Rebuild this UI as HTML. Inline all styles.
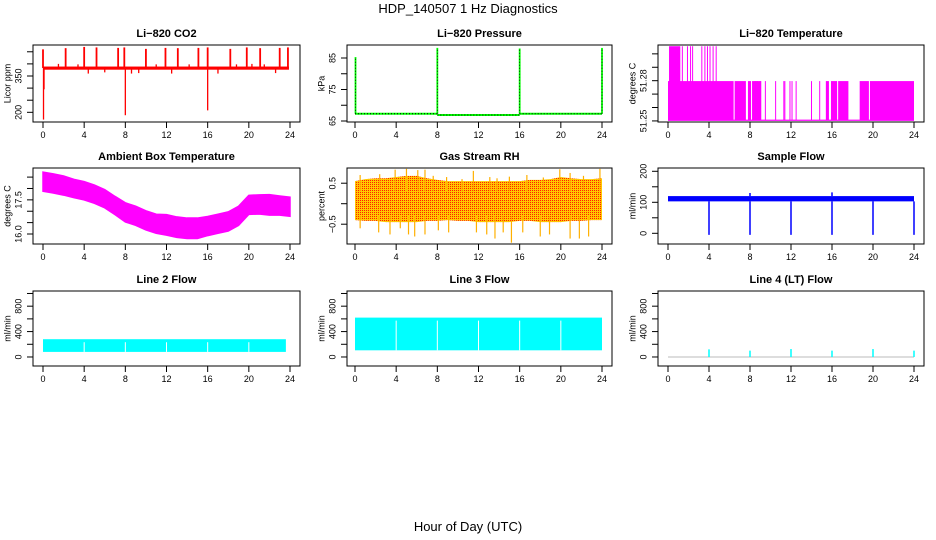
<!DOCTYPE html>
<html><head><meta charset="utf-8"><style>
html,body{margin:0;padding:0;background:#fff;}
svg{display:block;font-family:"Liberation Sans",sans-serif;}
</style></head><body>
<svg id="chart" width="936" height="540" viewBox="0 0 936 540">
<defs>
<pattern id="rhpat" width="2" height="2" patternUnits="userSpaceOnUse"><rect width="2" height="2" fill="#ffc800"/><rect x="0" y="0" width="1" height="1" fill="#ff2000"/></pattern>
</defs>
<text x="468" y="13" text-anchor="middle" font-size="13">HDP_140507  1 Hz Diagnostics</text>
<text x="468" y="531" text-anchor="middle" font-size="13">Hour of Day (UTC)</text>
</svg>
<script>
// ---- data arrays ----
var xTicks = [0, 4, 8, 12, 16, 20, 24];
// CO2
var co2Base = 383;
var co2SpikeHours = [0.0, 2.2, 4.0, 5.2, 7.3, 7.9, 10.0, 11.9, 13.1, 15.1, 16.0, 18.2, 19.8, 21.1, 23.0, 23.8];
var co2SpikeVals = [460, 465, 470, 468, 466, 468, 462, 466, 465, 466, 468, 462, 468, 465, 466, 468];
var co2SmallHours = [1.5, 3.4, 4.4, 6.0, 8.6, 9.3, 11.0, 12.5, 14.2, 17.0, 18.8, 20.3, 21.5, 22.6];
var co2SmallVals = [400, 398, 360, 365, 360, 362, 398, 360, 398, 360, 398, 400, 398, 362];
var co2DipHours = [0.05, 0.1, 8.0, 16.0];
var co2DipVals = [170, 295, 188, 208];
// Pressure
var presSegStart = [0, 8, 16];
var presSegEnd = [8, 16, 24];
var presSegVal = [67.3, 66.9, 67.3];
var presSpikeHours = [0.05, 8.0, 16.0, 24.0];
var presSpikeVals = [85.3, 88.2, 88.0, 88.2];
// Li-820 temperature
var tLow = 51.2505, tMid = 51.2797, tTop = 51.3057;
var tMidBlocks = [[0, 6.4], [6.5, 7.6], [7.8, 8.1], [8.2, 9.1], [15.4, 15.7], [15.9, 16.5], [16.6, 17.6], [18.7, 19.6], [19.7, 24]];
var tMidLines = [8.5, 8.7, 9.0, 9.5, 10.5, 11.3, 11.4, 11.9, 12.1, 12.5, 14.0, 14.8];
var tTopBlocks = [[0.1, 1.2]];
var tTopLines = [1.4, 1.9, 2.2, 2.4, 3.3, 3.6, 3.85, 4.1, 4.4, 4.7];
// Ambient box temperature (hourly centre and half width)
var ambCenter = [18.3, 18.22, 18.13, 18.0, 17.9, 17.75, 17.55, 17.25, 16.95, 16.8, 16.6, 16.45, 16.4, 16.3, 16.25, 16.25, 16.35, 16.45, 16.55, 16.8, 17.28, 17.3, 17.28, 17.25, 17.2];
var ambHalf = [0.42, 0.42, 0.42, 0.4, 0.4, 0.4, 0.4, 0.4, 0.42, 0.42, 0.42, 0.42, 0.45, 0.45, 0.45, 0.45, 0.42, 0.42, 0.42, 0.42, 0.42, 0.42, 0.45, 0.42, 0.42];
// Gas stream RH
var rhTop = [0.55, 0.6, 0.62, 0.62, 0.65, 0.68, 0.68, 0.62, 0.58, 0.55, 0.55, 0.55, 0.55, 0.55, 0.55, 0.55, 0.55, 0.58, 0.58, 0.6, 0.65, 0.62, 0.6, 0.6, 0.62];
var rhBottom = [-0.4, -0.42, -0.42, -0.45, -0.45, -0.45, -0.45, -0.42, -0.42, -0.4, -0.42, -0.42, -0.45, -0.45, -0.45, -0.45, -0.42, -0.42, -0.45, -0.45, -0.45, -0.42, -0.42, -0.4, -0.4];
var rhUpHours = [0.5, 2.4, 3.9, 5.0, 6.1, 6.8, 7.6, 8.9, 10.4, 11.5, 13.1, 13.8, 15.0, 16.7, 18.3, 19.9, 20.9, 22.2, 23.8];
var rhUpVals = [0.7, 0.72, 0.83, 0.85, 0.82, 0.83, 0.68, 0.65, 0.6, 0.8, 0.65, 0.62, 0.66, 0.7, 0.64, 0.84, 0.75, 0.68, 0.85];
var rhDownHours = [0.5, 2.3, 3.4, 4.4, 5.2, 5.8, 6.8, 8.1, 9.1, 11.8, 12.8, 13.6, 14.4, 15.2, 16.3, 18.0, 18.9, 20.9, 21.8, 22.7];
var rhDownVals = [-0.6, -0.7, -0.75, -0.6, -0.75, -0.8, -0.75, -0.65, -0.7, -0.7, -0.75, -0.85, -0.7, -0.95, -0.7, -0.8, -0.75, -0.85, -0.85, -0.8];
// Sample flow
var sfLow = 103, sfHigh = 120;
var sfDipHours = [4, 8, 12, 16, 20, 24];
var sfDipVals = [-5, -5, -5, -5, -5, -5];
var sfSpikeHours = [8.0, 16.0];
var sfSpikeVals = [130, 132];
// Line flows
var l2Low = 80, l2High = 280, l2End = 23.6;
var l3Low = 105, l3High = 620, l3End = 24;
var gapHours = [4, 8, 12, 16, 20];
var l4SpikeHours = [4, 8, 12, 16, 20, 24];
var l4SpikeVals = [120, 100, 125, 100, 125, 100];

// ---- geometry ----
var P = {
  co2:{bx:33,br:300,bt:45,bb:122,x0:43,x24:290,vmin:160,vmax:478,ticks:[200,250,300,350,400,450],labels:[[200,'200'],[350,'350']],title:'Li\u2212820 CO2',ylab:'Licor ppm'},
  pres:{bx:347,br:612,bt:45,bb:122,x0:355,x24:602,vmin:64.68,vmax:89.13,ticks:[65,70,75,80,85],labels:[[65,'65'],[75,'75'],[85,'85']],title:'Li\u2212820 Pressure',ylab:'kPa'},
  ltemp:{bx:658,br:924,bt:45,bb:122,x0:668,x24:914,vmin:51.2492,vmax:51.3066,ticks:[51.25,51.26,51.27,51.28,51.29,51.30],labels:[[51.25,'51.25'],[51.28,'51.28']],title:'Li\u2212820 Temperature',ylab:'degrees C'},
  amb:{bx:33,br:300,bt:168,bb:244,x0:43,x24:290,vmin:15.56,vmax:18.9,ticks:[16,16.5,17,17.5,18,18.5],labels:[[16,'16.0'],[17.5,'17.5']],title:'Ambient Box Temperature',ylab:'degrees C'},
  rh:{bx:347,br:612,bt:168,bb:244,x0:355,x24:602,vmin:-0.983,vmax:0.871,ticks:[-0.5,0,0.5],labels:[[-0.5,'\u22120.5'],[0.5,'0.5']],title:'Gas Stream RH',ylab:'percent'},
  sf:{bx:658,br:924,bt:168,bb:244,x0:668,x24:914,vmin:-34.5,vmax:210.6,ticks:[0,50,100,150,200],labels:[[0,'0'],[100,'100'],[200,'200']],title:'Sample Flow',ylab:'ml/min'},
  l2:{bx:33,br:300,bt:291,bb:366,x0:43,x24:290,vmin:-142,vmax:1039,ticks:[0,200,400,600,800,1000],labels:[[0,'0'],[400,'400'],[800,'800']],title:'Line 2 Flow',ylab:'ml/min'},
  l3:{bx:347,br:612,bt:291,bb:366,x0:355,x24:602,vmin:-142,vmax:1039,ticks:[0,200,400,600,800,1000],labels:[[0,'0'],[400,'400'],[800,'800']],title:'Line 3 Flow',ylab:'ml/min'},
  l4:{bx:658,br:924,bt:291,bb:366,x0:668,x24:914,vmin:-142,vmax:1039,ticks:[0,200,400,600,800,1000],labels:[[0,'0'],[400,'400'],[800,'800']],title:'Line 4 (LT) Flow',ylab:'ml/min'}
};
var svg = document.getElementById('chart');
var NS = 'http://www.w3.org/2000/svg';
function mk(tag, attrs, parent){
  var e = document.createElementNS(NS, tag);
  for (var k in attrs) e.setAttribute(k, attrs[k]);
  (parent || svg).appendChild(e);
  return e;
}
function xs(p, h){ return p.x0 + h / 24 * (p.x24 - p.x0); }
function ys(p, v){ return p.bb - (v - p.vmin) / (p.vmax - p.vmin) * (p.bb - p.bt); }
function vline(g, p, h, v1, v2, col, w){
  var e = mk('line', {x1:xs(p,h), x2:xs(p,h), y1:ys(p,v1), y2:ys(p,v2), stroke:col, 'stroke-width':w||1.3}, g);
  
  
  return e;
}
function hrect(g, p, h1, h2, v1, v2, fill, name){
  var e = mk('rect', {x:xs(p,h1), y:ys(p,v2), width:Math.max(0.5, xs(p,h2)-xs(p,h1)), height:Math.max(1, ys(p,v1)-ys(p,v2)), fill:fill}, g);
  
  
  return e;
}
function axes(key){
  var p = P[key];
  var g = mk('g', {});
  
  
  var t = mk('text', {x:(p.bx+p.br)/2, y:p.bt-8, 'text-anchor':'middle', 'font-size':11, 'font-weight':'bold'}, g);
  
  
  t.textContent = p.title;
  var b = mk('rect', {x:p.bx, y:p.bt, width:p.br-p.bx, height:p.bb-p.bt, fill:'none', stroke:'#000', 'stroke-width':1}, g);
  
  
  xTicks.forEach(function(h){
    var x = xs(p, h);
    var tk = mk('line', {x1:x, x2:x, y1:p.bb, y2:p.bb+6, stroke:'#000'}, g);
    
    
    var tl = mk('text', {x:x, y:p.bb+16, 'text-anchor':'middle', 'font-size':9}, g);
    
    
    tl.textContent = h;
  });
  p.ticks.forEach(function(v){
    var y = ys(p, v);
    var tk = mk('line', {x1:p.bx-6, x2:p.bx, y1:y, y2:y, stroke:'#000'}, g);
    
    
  });
  p.labels.forEach(function(l){
    var y = ys(p, l[0]); var x = p.bx - 14;
    var tl = mk('text', {x:x, y:y, 'text-anchor':'middle', 'font-size':9, transform:'rotate(-90 '+x+' '+y+')', 'dominant-baseline':'middle'}, g);
    
    
    tl.textContent = l[1];
  });
  var yx = p.bx - 25, yy = (p.bt + p.bb) / 2;
  var yl = mk('text', {x:yx, y:yy, 'text-anchor':'middle', 'font-size':9, transform:'rotate(-90 '+yx+' '+yy+')', 'dominant-baseline':'middle'}, g);
  
  
  yl.textContent = p.ylab;
}
function series(key){
  var g = mk('g', {});
  
  
  return g;
}
Object.keys(P).forEach(axes);

// CO2
(function(){
  var p = P.co2, g = series('co2'), c = '#ff0000';
  hrect(g, p, 0, 23.9, co2Base-7, co2Base+6, c, 'co2-baseline');
  co2SpikeHours.forEach(function(h,i){ vline(g, p, h, co2Base, co2SpikeVals[i], c, 1.8); });
  co2SmallHours.forEach(function(h,i){ vline(g, p, h, co2Base, co2SmallVals[i], c, 1.3); });
  co2DipHours.forEach(function(h,i){ vline(g, p, h, co2Base, co2DipVals[i], c, 1.3); });
})();
// Pressure
(function(){
  var p = P.pres, g = series('pres');
  presSegStart.forEach(function(s,i){
    var e = mk('line', {x1:xs(p,s), x2:xs(p,presSegEnd[i]), y1:ys(p,presSegVal[i]), y2:ys(p,presSegVal[i]), stroke:'#00ff00', 'stroke-width':2}, g);
    
    
    var d = mk('line', {x1:xs(p,s), x2:xs(p,presSegEnd[i]), y1:ys(p,presSegVal[i]), y2:ys(p,presSegVal[i]), stroke:'#000', 'stroke-width':1, 'stroke-dasharray':'1 2'}, g);
    
    
  });
  presSpikeHours.forEach(function(h,i){
    vline(g, p, h, 67.3, presSpikeVals[i], '#00ff00', 1.8);
    var d = vline(g, p, h, 67.3, presSpikeVals[i], '#000', 0.8);
    d.setAttribute('stroke-dasharray', '1 2');
  });
})();
// Li-820 temperature
(function(){
  var p = P.ltemp, g = series('ltemp'), c = '#ff00ff';
  var base = mk('line', {x1:xs(p,0), x2:xs(p,24), y1:ys(p,tLow), y2:ys(p,tLow), stroke:c, 'stroke-width':1.2}, g);
  
  
  tMidBlocks.forEach(function(b){ hrect(g, p, b[0], b[1], tLow, tMid, c, 'temp-mid-block'); });
  tMidLines.forEach(function(h){ vline(g, p, h, tLow, tMid, c, 1); });
  tTopBlocks.forEach(function(b){ hrect(g, p, b[0], b[1], tLow, tTop, c, 'temp-top-block'); });
  tTopLines.forEach(function(h){ vline(g, p, h, tLow, tTop, c, 1); });
})();
// Ambient
(function(){
  var p = P.amb, g = series('amb'), pts = [];
  ambCenter.forEach(function(v,i){ pts.push(xs(p,i)+','+ys(p,v+ambHalf[i])); });
  for (var i = ambCenter.length-1; i >= 0; i--) pts.push(xs(p,i)+','+ys(p,ambCenter[i]-ambHalf[i]));
  var e = mk('polygon', {points:pts.join(' '), fill:'#ff00ff', stroke:'#ff00ff', 'stroke-width':1.5}, g);
  
  
})();
// RH
(function(){
  var p = P.rh, g = series('rh'), pts = [];
  rhTop.forEach(function(v,i){ pts.push(xs(p,i)+','+ys(p,v)); });
  for (var i = rhBottom.length-1; i >= 0; i--) pts.push(xs(p,i)+','+ys(p,rhBottom[i]));
  var e = mk('polygon', {points:pts.join(' '), fill:'url(#rhpat)'}, g);
  
  
  rhUpHours.forEach(function(h,i){ vline(g, p, h, 0.3, rhUpVals[i], '#ffb000', 1.2); });
  rhDownHours.forEach(function(h,i){ vline(g, p, h, -0.3, rhDownVals[i], '#ffb000', 1.2); });
})();
// Sample flow
(function(){
  var p = P.sf, g = series('sf'), c = '#0000ff';
  hrect(g, p, 0, 24, sfLow, sfHigh, c, 'sample-flow-band');
  sfDipHours.forEach(function(h,i){ vline(g, p, h, sfLow, sfDipVals[i], c, 1.5); });
  sfSpikeHours.forEach(function(h,i){ vline(g, p, h, sfHigh, sfSpikeVals[i], c, 1.5); });
})();
// Line 2 / Line 3
function lineFlow(key, lo, hi, end){
  var p = P[key], g = series(key);
  hrect(g, p, 0, end, lo, hi, '#00ffff', key + '-flow-band');
  gapHours.forEach(function(h){
    var e = mk('line', {x1:xs(p,h), x2:xs(p,h), y1:ys(p,hi)+3, y2:ys(p,lo), stroke:'#fff', 'stroke-width':1}, g);
    
    
  });
}
lineFlow('l2', l2Low, l2High, l2End);
lineFlow('l3', l3Low, l3High, l3End);
// Line 4
(function(){
  var p = P.l4, g = series('l4');
  var e = mk('line', {x1:xs(p,0), x2:xs(p,24), y1:ys(p,0), y2:ys(p,0), stroke:'#bbbbbb', 'stroke-width':1}, g);
  
  
  l4SpikeHours.forEach(function(h,i){ vline(g, p, h, 0, l4SpikeVals[i], '#00ffff', 1.5); });
})();
</script>
</body></html>
